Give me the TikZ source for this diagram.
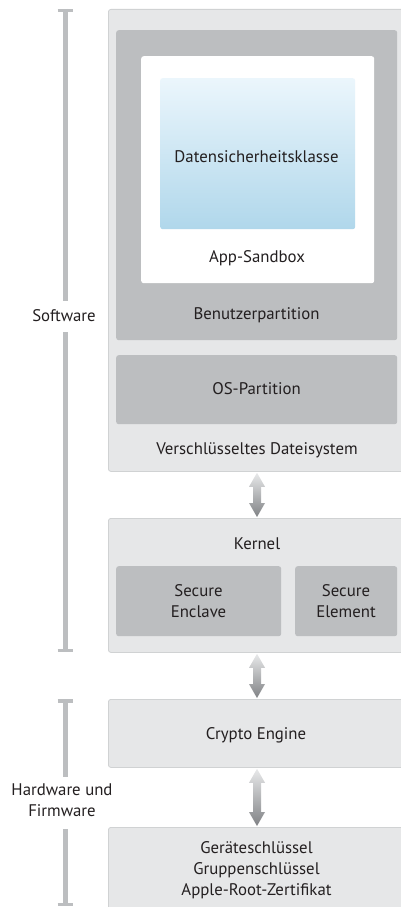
\documentclass[tikz,border=0pt]{standalone}
\usepackage{fontspec}
\setmainfont{PT Sans}
\usetikzlibrary{calc}
\definecolor{lightbox}{HTML}{E6E7E8}
\definecolor{boxline}{HTML}{D0D2D3}
\definecolor{midgray}{HTML}{BCBEC0}
\definecolor{bluetop}{HTML}{EBF6FC}
\definecolor{bluebot}{HTML}{B0D7EB}
\definecolor{arrtop}{HTML}{E8E9EA}
\definecolor{arrbot}{HTML}{808285}
\definecolor{txtcol}{HTML}{231F20}
\tikzset{
  box/.style={anchor=north west, inner sep=0pt, rounded corners=2.5pt},
  outerbox/.style={box, fill=lightbox, draw=boxline, line width=0.8pt},
  graybox/.style={box, fill=midgray},
  whitebox/.style={box, fill=white},
  bluebox/.style={box, top color=bluetop, bottom color=bluebot},
  txt/.style={inner sep=0pt, font=\fontsize{16.8}{21}\selectfont, text=txtcol, align=center},
  barline/.style={draw=midgray, line width=5pt},
  barcap/.style={draw=midgray, line width=3.5pt},
  arrowshade/.style={top color=arrtop, bottom color=arrbot}
}
\newcommand\fatarrow[2]{%
  \shade[arrowshade] ($(#1)+(0,1)$) -- ($(#1)+(8,15)$) -- ($(#1)+(4,15)$) -- ($(#2)+(4,-15)$) -- ($(#2)+(8,-15)$) -- ($(#2)+(0,-1)$) -- ($(#2)+(-8,-15)$) -- ($(#2)+(-4,-15)$) -- ($(#1)+(-4,15)$) -- ($(#1)+(-8,15)$) -- cycle;}
\begin{document}
\begin{tikzpicture}[x=1pt,y=-1pt]
\useasboundingbox (0,0) rectangle (401,907);
% boxes
\node[outerbox, minimum width=300pt, minimum height=462pt] (fs) at (108,9) {};
\node[graybox, minimum width=281pt, minimum height=310pt] (bp) at (116,30) {};
\node[whitebox, minimum width=233pt, minimum height=227pt] (sb) at (141,56) {};
\node[bluebox, minimum width=195pt, minimum height=151pt] (dk) at (160,78) {};
\node[graybox, minimum width=281pt, minimum height=69pt] (os) at (116,355) {};
\node[outerbox, minimum width=300pt, minimum height=134pt] (kern) at (108,518) {};
\node[graybox, minimum width=165pt, minimum height=70pt] (se) at (116,566) {};
\node[graybox, minimum width=102pt, minimum height=70pt] (sel) at (295,566) {};
\node[outerbox, minimum width=300pt, minimum height=68pt] (ce) at (108,699) {};
\node[outerbox, minimum width=300pt, minimum height=100pt] (keys) at (108,827) {};
% texts
\node[txt] (tdk) at (256.5,157) {Datensicherheitsklasse};
\node[txt] (tsb) at (257,258) {App-Sandbox};
\node[txt] (tbp) at (256.5,315) {Benutzerpartition};
\node[txt] (tos) at (256.5,389) {OS-Partition};
\node[txt] (tfs) at (257,450) {Verschlüsseltes Dateisystem};
\node[txt] (tk) at (257,544) {Kernel};
\node[txt] (tse) at (198.5,601.5) {Secure\\Enclave};
\node[txt] (tsel) at (346,601.5) {Secure\\Element};
\node[txt] (tce) at (256,735) {Crypto Engine};
\node[txt] (tkeys) at (256.5,870) {Geräteschlüssel\\Gruppenschlüssel\\Apple-Root-Zertifikat};
\node[txt] (tsw) at (64,316) {Software};
\node[txt] (thw) at (62,800.5) {Hardware und\\Firmware};
% arrows
\coordinate (ax) at (257,0);
\path (fs.south -| ax) coordinate (a1t) (kern.north -| ax) coordinate (a1b);
\path (kern.south -| ax) coordinate (a2t) (ce.north -| ax) coordinate (a2b);
\path (ce.south -| ax) coordinate (a3t) (keys.north -| ax) coordinate (a3b);
\fatarrow{a1t}{a1b}
\fatarrow{a2t}{a2b}
\fatarrow{a3t}{a3b}
% bars
\coordinate (swtop) at (65,9);
\coordinate (swbot) at (65,652);
\coordinate (hwtop) at (65,699);
\coordinate (hwbot) at (65,906);
\draw[barline] (swtop) -- ($(tsw.north -| swtop)+(0,-9)$);
\draw[barline] ($(tsw.south -| swtop)+(0,10)$) -- (swbot);
\draw[barline] (hwtop) -- ($(thw.north -| hwtop)+(0,-7)$);
\draw[barline] ($(thw.south -| hwtop)+(0,12)$) -- (hwbot);
\draw[barcap] ($(swtop)+(-7.5,1.75)$) -- ($(swtop)+(7.5,1.75)$);
\draw[barcap] ($(swbot)+(-7.5,-1.75)$) -- ($(swbot)+(7.5,-1.75)$);
\draw[barcap] ($(hwtop)+(-7.5,1.75)$) -- ($(hwtop)+(7.5,1.75)$);
\draw[barcap] ($(hwbot)+(-7.5,-1.75)$) -- ($(hwbot)+(7.5,-1.75)$);
\end{tikzpicture}
\end{document}
